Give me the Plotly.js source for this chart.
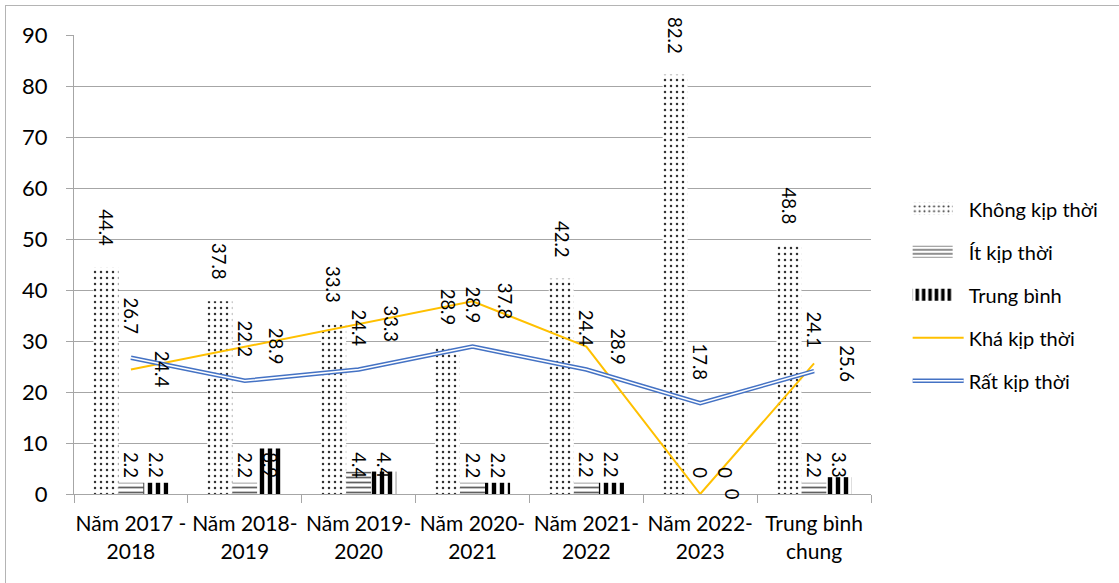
<!DOCTYPE html>
<html>
<head>
<meta charset="utf-8">
<script src="https://cdn.plot.ly/plotly-3.0.1.min.js"></script>
<style>
  html, body { margin: 0; padding: 0; background: #fff; overflow: hidden; }
  #wrap { position: relative; width: 1119px; height: 583px; overflow: hidden; }
  #chart { width: 1119px; height: 583px; }
  #frame { position: absolute; left: 5px; top: 5px; width: 1400px; height: 900px;
           border: 1px solid #b4b4b4; pointer-events: none; }
</style>
</head>
<body>
<div id="wrap"><div id="chart"></div><div id="frame"></div></div>
<script>
// School years surveyed, plus the overall average
const categories = ['Năm 2017 - 2018', 'Năm 2018-2019', 'Năm 2019-2020', 'Năm 2020-2021',
                    'Năm 2021-2022', 'Năm 2022-2023', 'Trung bình chung'];
const tickLabels = ['Năm 2017 -<br>2018', 'Năm 2018-<br>2019', 'Năm 2019-<br>2020', 'Năm 2020-<br>2021',
                    'Năm 2021-<br>2022', 'Năm 2022-<br>2023', 'Trung bình<br>chung'];

// Percentages per response level
const khongKipThoi = [44.4, 37.8, 33.3, 28.9, 42.2, 82.2, 48.8];
const itKipThoi    = [2.2, 2.2, 4.4, 2.2, 2.2, 0, 2.2];
const trungBinh    = [2.2, 8.9, 4.4, 2.2, 2.2, 0, 3.3];
const khaKipThoi   = [24.4, 28.9, 33.3, 37.8, 28.9, 0, 25.6];
const ratKipThoi   = [26.7, 22.2, 24.4, 28.9, 24.4, 17.8, 24.1];

const yTicks = [0, 10, 20, 30, 40, 50, 60, 70, 80, 90];

const FONT = 'Lato, "Open Sans", sans-serif';
const GRID = '#a6a6a6';
const M = { l: 74, r: 248, t: 35, b: 89 };
const BARGAP = 0.34;
const plotW = 1119 - M.l - M.r;
const barW = plotW / categories.length * (1 - BARGAP) / 3;

const traces = [
  {
    type: 'bar', name: 'Không kịp thời', x: categories, y: khongKipThoi, legendgroup: 'g1',
    marker: { color: '#ffffff',
      pattern: { shape: '.', fgcolor: '#333333', bgcolor: '#ffffff', size: 6, solidity: 0.14, fillmode: 'replace' } },
    hoverinfo: 'x+y'
  },
  {
    type: 'bar', name: 'Ít kịp thời', x: categories, y: itKipThoi, legendgroup: 'g2',
    marker: { color: '#ffffff',
      pattern: { shape: '-', fgcolor: '#606060', bgcolor: '#ffffff', size: 5, solidity: 0.35, fillmode: 'replace' } },
    hoverinfo: 'x+y'
  },
  {
    type: 'bar', name: 'Trung bình', x: categories, y: trungBinh, legendgroup: 'g3',
    marker: { color: '#ffffff',
      pattern: { shape: '|', fgcolor: '#000000', bgcolor: '#ffffff', size: 8, solidity: 0.55, fillmode: 'replace' } },
    hoverinfo: 'x+y'
  },
  {
    type: 'scatter', mode: 'lines', name: 'Khá kịp thời', x: categories, y: khaKipThoi, legendgroup: 'g4',
    line: { color: '#FFC000', width: 2 }
  },
  {
    type: 'scatter', mode: 'lines', name: 'Rất kịp thời', x: categories, y: ratKipThoi, legendgroup: 'g5',
    line: { color: '#4472C4', width: 4.5 }
  },
  {
    // inner white stroke that turns the blue series into a double line
    type: 'scatter', mode: 'lines', name: 'Rất kịp thời', x: categories, y: ratKipThoi, legendgroup: 'g5',
    line: { color: '#ffffff', width: 1.5 }, showlegend: false, hoverinfo: 'skip'
  }
];

// Rotated value labels
const labelFont = { family: FONT, size: 18.5, color: '#000000' };
function vLabel(x, y, text, opts) {
  return Object.assign({ x: x, y: y, text: text, showarrow: false, textangle: 90,
    font: labelFont, xref: 'x', yref: 'y', xanchor: 'center', yanchor: 'bottom' }, opts);
}
const annotations = [];
categories.forEach((c, i) => {
  annotations.push(vLabel(c, khongKipThoi[i], String(khongKipThoi[i]), { xshift: -barW, yshift: 19 }));
  annotations.push(vLabel(c, 0, String(itKipThoi[i]), { xshift: 0, yshift: 14 }));
  annotations.push(vLabel(c, 0, String(trungBinh[i]), { xshift: barW, yshift: 14 }));
  annotations.push(vLabel(c, khaKipThoi[i], String(khaKipThoi[i]), { xshift: 32, yanchor: 'middle' }));
  annotations.push(vLabel(c, ratKipThoi[i], String(ratKipThoi[i]), { xshift: 0, yshift: 21 }));
});

const layout = {
  width: 1119, height: 583,
  margin: M,
  paper_bgcolor: '#ffffff', plot_bgcolor: '#ffffff',
  font: { family: FONT, color: '#000000' },
  barmode: 'group', bargap: BARGAP, bargroupgap: 0,
  showlegend: true,
  legend: {
    x: 1.046, xanchor: 'left', y: 0.434, yanchor: 'middle',
    font: { family: FONT, size: 20, color: '#000000' },
    itemwidth: 51, tracegroupgap: 14, bgcolor: 'rgba(0,0,0,0)'
  },
  xaxis: {
    type: 'category', tickvals: categories, ticktext: tickLabels, tickangle: 0,
    showline: true, linecolor: GRID, linewidth: 1,
    ticks: 'outside', tickson: 'boundaries', ticklen: 8, tickcolor: GRID,
    showgrid: false, zeroline: false,
    tickfont: { family: FONT, size: 21, color: '#000000' },
    ticklabelstandoff: 11, fixedrange: true
  },
  yaxis: {
    range: [0, 90], tickvals: yTicks, ticktext: yTicks.map(String),
    showline: true, linecolor: GRID, linewidth: 1,
    ticks: 'outside', ticklen: 7, tickcolor: GRID,
    showgrid: true, gridcolor: GRID, gridwidth: 1, zeroline: false,
    tickfont: { family: FONT, size: 22, color: '#000000' },
    ticklabelstandoff: 14, fixedrange: true
  },
  annotations: annotations
};

// Widen bar legend swatches to the line length and give the blue entry its inner white stroke
function styleLegend(gd) {
  const W = 50;
  gd.querySelectorAll('.legend .traces').forEach(tr => {
    const d = tr.__data__ && tr.__data__[0];
    if (!d) return;
    const t = d.trace;
    if (t.type === 'bar') {
      tr.querySelectorAll('path.legendbar, path.legendundefined').forEach(p => {
        p.setAttribute('d', 'M5,-6h' + (W - 10) + 'v12h-' + (W - 10) + 'Z');
        p.removeAttribute('transform');
      });
    }
    if (t.name === 'Rất kịp thời' && !tr.querySelector('.innerline')) {
      const ln = tr.querySelector('.legendlines path');
      if (ln) {
        const c = ln.cloneNode(true);
        c.setAttribute('class', 'innerline');
        c.style.stroke = '#ffffff';
        c.style.strokeWidth = '1.5px';
        ln.parentNode.appendChild(c);
      }
    }
  });
}

Plotly.newPlot('chart', traces, layout, { displayModeBar: false, staticPlot: true }).then(gd => {
  styleLegend(gd);
  gd.on && gd.on('plotly_afterplot', () => styleLegend(gd));
});
</script>
</body>
</html>
